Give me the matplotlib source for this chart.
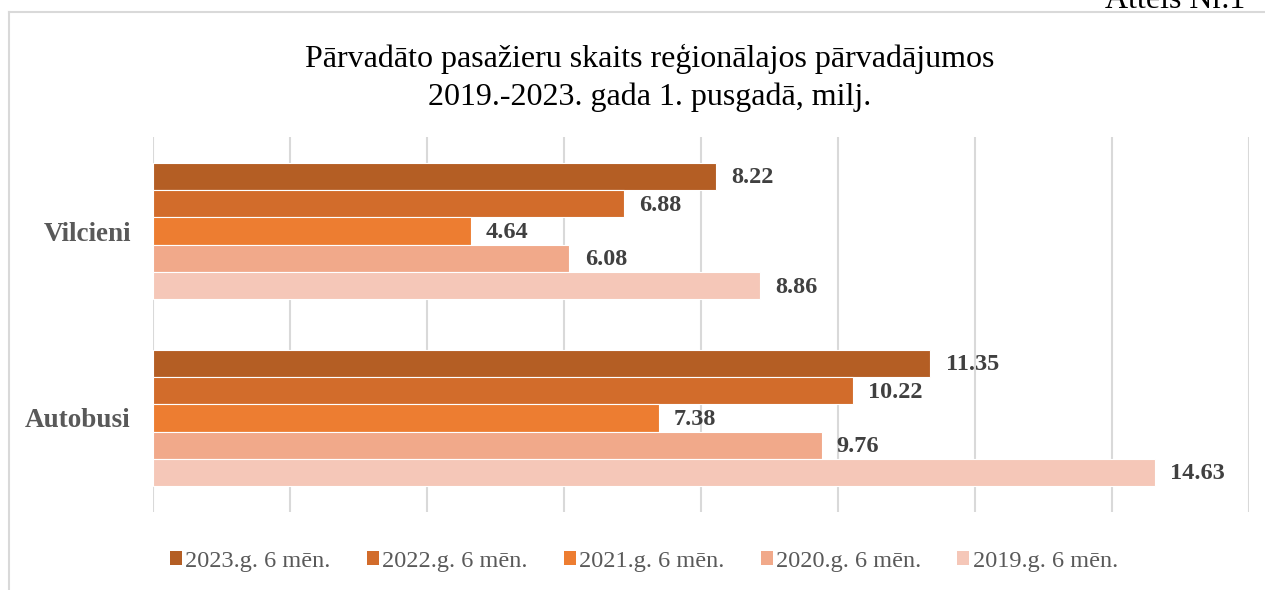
import matplotlib
matplotlib.use("Agg")
import matplotlib.pyplot as plt
from matplotlib.patches import Patch
from matplotlib.lines import Line2D
import numpy as np

categories = ["Vilcieni", "Autobusi"]
series = ["2023.g. 6 mēn.", "2022.g. 6 mēn.", "2021.g. 6 mēn.", "2020.g. 6 mēn.", "2019.g. 6 mēn."]
values_2023 = [8.22, 11.35]
values_2022 = [6.88, 10.22]
values_2021 = [4.64, 7.38]
values_2020 = [6.08, 9.76]
values_2019 = [8.86, 14.63]
colors = ["#B45E24", "#D26C2B", "#ED7D31", "#F1A98A", "#F5C7B8"]
title = "Pārvadāto pasažieru skaits reģionālajos pārvadājumos\n2019.-2023. gada 1. pusgadā, milj."

all_values = [values_2023, values_2022, values_2021, values_2020, values_2019]

W, H = 1265, 590
fig = plt.figure(figsize=(W / 100, H / 100), dpi=100)
serif = "Liberation Serif"

ax = fig.add_axes([153 / W, 1 - 512 / H, (1249 - 153) / W, (512 - 137) / H])

bh = 0.146
y = np.arange(len(categories))
for j, (vals, col, name) in enumerate(zip(all_values, colors, series)):
    pos = y + (j - 2) * bh
    ax.barh(pos, vals, height=bh, color=col, edgecolor="white", linewidth=0.8, label=name, zorder=3)
    for p, v in zip(pos, vals):
        ax.annotate(f"{v:.2f}", xy=(v, p), xytext=(11, -1), textcoords="offset points",
                    va="center", ha="left", fontsize=17.5, fontweight="bold",
                    color="#404040", family=serif)

ax.set_xlim(0, 16)
ax.set_ylim(1.503, -0.503)
ax.set_xticks(np.arange(0, 17, 2))
ax.set_xticklabels([])
ax.tick_params(axis="x", length=0)
ax.grid(axis="x", color="#D9D9D9", linewidth=1.5, zorder=0)
ax.set_yticks(y)
ax.set_yticklabels(categories, fontsize=19.5, fontweight="bold", color="#595959", family=serif)
ax.tick_params(axis="y", length=0, pad=16)
for s in ax.spines.values():
    s.set_visible(False)

fig.text(650 / W, 1 - 78 / H, title, ha="center", va="center", fontsize=23,
         family=serif, color="#000000", linespacing=1.35)

# "Attēls Nr.1" caption at top right (partly cut off, as in the original)
fig.text(1245 / W, 1 - 8 / H, "Attēls Nr.1", ha="right", va="baseline", fontsize=23,
         family=serif, color="#000000")

# chart border
fig.add_artist(Line2D([9 / W, 1], [1 - 12 / H, 1 - 12 / H], transform=fig.transFigure,
                      color="#D9D9D9", linewidth=1.5))
fig.add_artist(Line2D([9 / W, 9 / W], [0, 1 - 12 / H], transform=fig.transFigure,
                      color="#D9D9D9", linewidth=1.5))

handles = [Patch(facecolor=c, edgecolor="none") for c in colors]
leg = fig.legend(handles, series, loc="center", bbox_to_anchor=(644 / W, 1 - 561 / H),
                 ncol=5, frameon=False, handlelength=0.5, handleheight=0.5,
                 handletextpad=0.15, columnspacing=1.47,
                 prop={"family": serif, "size": 17.5})
for t in leg.get_texts():
    t.set_color("#595959")

fig.savefig("out.png", dpi=100, facecolor="white")
